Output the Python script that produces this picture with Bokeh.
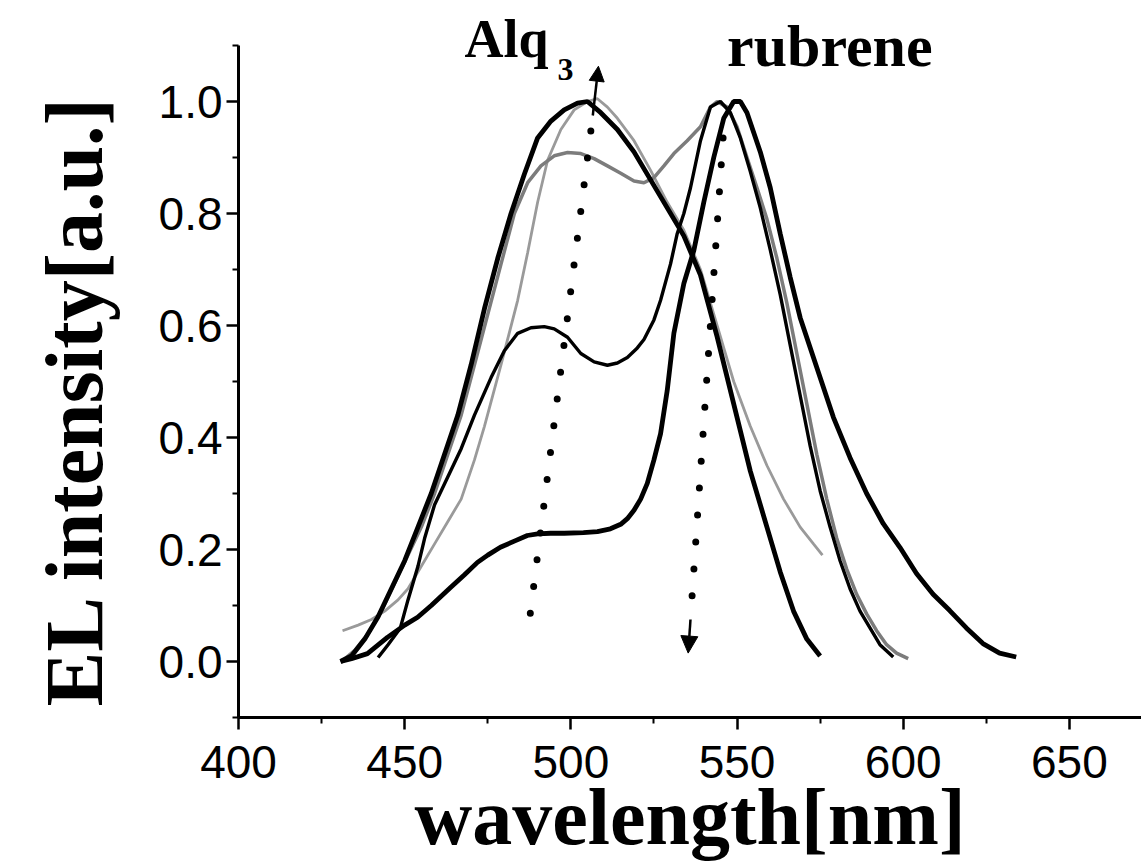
from bokeh.plotting import figure
from bokeh.models import Range1d, FixedTicker, Arrow, NormalHead, Label
from bokeh.core.properties import value
from bokeh.embed import file_html
from bokeh.resources import INLINE

# ---------------- data ----------------
x_ticks = [400, 450, 500, 550, 600, 650]
x_minor = [425, 475, 525, 575, 625, 675]
y_ticks = [0.0, 0.2, 0.4, 0.6, 0.8, 1.0]
y_minor = [-0.1, 0.1, 0.3, 0.5, 0.7, 0.9, 1.1]
x_axis_bounds = (400, 671.7)
y_axis_bounds = (-0.1, 1.1)

# curve 1: black thick, Alq3 peak with shoulder
wl_1 = [430.7, 434, 438, 442, 446, 450, 454, 458, 462, 466, 470, 474, 478, 482, 486, 490,
        494, 498, 502, 505, 509, 514, 519, 524, 529, 534, 539, 544, 549, 554, 559, 563,
        567, 571, 575]
el_1 = [0.00, 0.01, 0.04, 0.08, 0.13, 0.18, 0.24, 0.30, 0.37, 0.44, 0.53, 0.63, 0.72, 0.80,
        0.87, 0.935, 0.965, 0.985, 0.997, 1.0, 0.98, 0.95, 0.91, 0.86, 0.81, 0.76, 0.69,
        0.58, 0.46, 0.34, 0.24, 0.16, 0.09, 0.04, 0.01]

# curve 2: grey, Alq3 peak with long tail
wl_2 = [431.3, 436, 440, 444, 448, 451, 455, 459, 463, 467, 471, 474, 479, 484, 487, 490,
        493, 497, 501, 505, 508, 511, 514, 519, 524, 529, 534, 539, 544, 549, 554, 559,
        564, 569, 573, 575.7]
el_2 = [0.055, 0.065, 0.075, 0.09, 0.11, 0.13, 0.17, 0.21, 0.25, 0.29, 0.36, 0.42, 0.53,
        0.645, 0.73, 0.82, 0.895, 0.95, 0.985, 1.0, 1.005, 0.99, 0.97, 0.93, 0.877, 0.82,
        0.77, 0.70, 0.60, 0.50, 0.42, 0.35, 0.29, 0.24, 0.21, 0.19]

# curve 3: grey, Alq3 0.91 + rubrene 1.0
wl_3 = [431, 435, 439, 443, 447, 451, 455, 459, 463, 467, 471, 475, 479, 483, 487, 491,
        495, 499, 503, 507, 511, 515, 519, 522, 525, 528, 531, 535, 539, 542, 544, 547,
        550, 553, 556, 559, 562, 565, 568, 571, 574, 577, 580, 583, 586, 589, 592, 595,
        598, 601.5]
el_3 = [0.0, 0.02, 0.05, 0.09, 0.14, 0.19, 0.24, 0.30, 0.37, 0.44, 0.53, 0.62, 0.71, 0.80,
        0.855, 0.885, 0.903, 0.909, 0.907, 0.898, 0.885, 0.872, 0.858, 0.855, 0.864, 0.885,
        0.907, 0.93, 0.955, 0.99, 1.0, 0.99, 0.955, 0.90, 0.846, 0.79, 0.72, 0.64, 0.55,
        0.46, 0.37, 0.29, 0.22, 0.165, 0.12, 0.085, 0.055, 0.03, 0.015, 0.005]

# curve 4: black, Alq3 0.6 + rubrene 1.0
wl_4 = [442, 445, 448.7, 451, 454, 456, 459, 463, 467, 471, 476, 480, 484, 488, 492, 495,
        499, 503, 507, 511, 514, 517, 520, 522, 525, 527, 530, 532, 534, 536, 539, 542,
        545, 548, 551, 554, 557, 560, 563, 566, 569, 572, 575, 578, 581, 584, 587, 590,
        593, 597]
el_4 = [0.007, 0.03, 0.06, 0.11, 0.17, 0.22, 0.28, 0.33, 0.38, 0.44, 0.507, 0.555, 0.586,
        0.596, 0.598, 0.594, 0.579, 0.55, 0.535, 0.529, 0.533, 0.543, 0.56, 0.575, 0.61,
        0.645, 0.71, 0.764, 0.80, 0.846, 0.93, 0.99, 1.0, 0.98, 0.935, 0.875, 0.81, 0.735,
        0.655, 0.565, 0.475, 0.385, 0.305, 0.24, 0.18, 0.13, 0.09, 0.06, 0.03, 0.008]

# curve 5: black thick, Alq3 plateau 0.23 + rubrene 1.0
wl_5 = [430.7, 434, 438.8, 444.8, 450, 453.9, 458, 463.8, 468, 471.9, 475, 478.8, 483,
        486.9, 490, 493.9, 498, 503.8, 508, 511.9, 515, 517, 519, 521, 523, 525, 527, 529,
        531, 534, 537, 540, 543, 546, 549, 551, 553, 557, 560, 563, 566, 569, 574, 579,
        584, 589, 594, 599, 604, 609, 614, 619, 624, 629, 634]
el_5 = [0.0, 0.005, 0.014, 0.043, 0.065, 0.079, 0.10, 0.132, 0.155, 0.177, 0.19, 0.204,
        0.215, 0.225, 0.228, 0.229, 0.229, 0.23, 0.232, 0.237, 0.245, 0.255, 0.27, 0.29,
        0.318, 0.36, 0.407, 0.484, 0.586, 0.675, 0.734, 0.82, 0.90, 0.97, 1.0, 1.0, 0.98,
        0.91, 0.846, 0.764, 0.686, 0.614, 0.525, 0.436, 0.364, 0.30, 0.246, 0.204, 0.157,
        0.12, 0.091, 0.06, 0.032, 0.015, 0.008]

# dotted arrows (start / end of the dotted part, then tip of the head)
arrow_alq_x = [487.8, 506.6]
arrow_alq_y = [0.086, 0.975]
arrow_alq_tip = [508.3, 1.063]
arrow_rub_x = [545.8, 536.0]
arrow_rub_y = [0.935, 0.075]
arrow_rub_tip = [535.3, 0.015]

# labels
label_alq = "Alq"
label_alq_pos = [468.0, 1.112]
label_sub = "3"
label_sub_pos = [496.0, 1.058]
label_rub = "rubrene"
label_rub_pos = [547.0, 1.100]

SERIF = "Liberation Serif"
SANS = "Liberation Sans"
NBSP = "\u00a0"

# frame: 717 px tall at 560 px per unit, bottom at -0.1
Y_TOP = -0.1 + 717 / 560

p = figure(width=1141, height=865, output_backend="svg", toolbar_location=None,
           x_range=Range1d(400, 671.7), y_range=Range1d(-0.1, Y_TOP),
           min_border_left=238, min_border_right=0, min_border_top=0, min_border_bottom=148,
           background_fill_color="white", border_fill_color="white")
p.outline_line_color = None
p.xgrid.visible = False
p.ygrid.visible = False

for ax in (p.xaxis[0], p.yaxis[0]):
    ax.axis_line_width = 3
    ax.axis_line_color = "black"
    ax.major_tick_line_width = 2.5
    ax.minor_tick_line_width = 2
    ax.major_tick_out = 12
    ax.major_tick_in = 0
    ax.minor_tick_out = 6
    ax.minor_tick_in = 0
    ax.major_label_text_font = SANS
    ax.major_label_text_color = "black"
    ax.axis_label_text_font = SERIF
    ax.axis_label_text_font_style = "bold"
    ax.axis_label_text_color = "black"

p.xaxis.bounds = x_axis_bounds
p.yaxis.bounds = y_axis_bounds
p.xaxis.ticker = FixedTicker(ticks=x_ticks, minor_ticks=x_minor)
p.yaxis.ticker = FixedTicker(ticks=y_ticks, minor_ticks=y_minor)
p.xaxis.major_label_overrides = {t: str(t) for t in x_ticks}
p.yaxis.major_label_overrides = {t: f"{t:.1f}" for t in y_ticks}
p.xaxis.major_label_text_font_size = "46px"
p.yaxis.major_label_text_font_size = "46px"
p.xaxis.major_label_standoff = 16
p.yaxis.major_label_standoff = 4
p.xaxis.axis_label = "wavelength[nm]"
# trailing non-breaking spaces move the centred label down to sit beside the visible axis
p.yaxis.axis_label = "EL intensity[a.u.]" + NBSP * 4
p.xaxis.axis_label_text_font_size = "80px"
p.yaxis.axis_label_text_font_size = "82px"
p.xaxis.axis_label_standoff = -8
p.yaxis.axis_label_standoff = 36

# spectra
p.line(wl_2, el_2, line_color="#9a9a9a", line_width=2.8)
p.line(wl_3, el_3, line_color="#7c7c7c", line_width=3.5)
p.line(wl_4, el_4, line_color="black", line_width=3.4)
p.line(wl_1, el_1, line_color="black", line_width=4.8)
p.line(wl_5, el_5, line_color="black", line_width=4.8)

# dotted arrows
p.line(arrow_alq_x, arrow_alq_y, line_color="black", line_width=7, line_cap="round",
       line_dash="0 27")
p.add_layout(Arrow(x_start=arrow_alq_x[1], y_start=arrow_alq_y[1],
                   x_end=arrow_alq_tip[0], y_end=arrow_alq_tip[1],
                   line_width=2.5, line_color="black",
                   end=NormalHead(size=15, fill_color="black", line_color="black")))
p.line(arrow_rub_x, arrow_rub_y, line_color="black", line_width=7, line_cap="round",
       line_dash="0 27")
p.add_layout(Arrow(x_start=arrow_rub_x[1], y_start=arrow_rub_y[1],
                   x_end=arrow_rub_tip[0], y_end=arrow_rub_tip[1],
                   line_width=2.5, line_color="black",
                   end=NormalHead(size=17, fill_color="black", line_color="black")))

# texts
p.add_layout(Label(x=label_alq_pos[0], y=label_alq_pos[1], text=label_alq,
                   text_font=SERIF, text_font_style="bold", text_font_size="54px",
                   text_baseline="alphabetic", text_align="left", text_color="black"))
p.add_layout(Label(x=label_sub_pos[0], y=label_sub_pos[1], text=label_sub,
                   text_font=SERIF, text_font_style="bold", text_font_size="32px",
                   text_baseline="alphabetic", text_align="left", text_color="black"))
p.add_layout(Label(x=label_rub_pos[0], y=label_rub_pos[1], text=label_rub,
                   text_font=SERIF, text_font_style="bold", text_font_size="60px",
                   text_baseline="alphabetic", text_align="left", text_color="black"))

open("out.html", "w").write(file_html(p, INLINE))
